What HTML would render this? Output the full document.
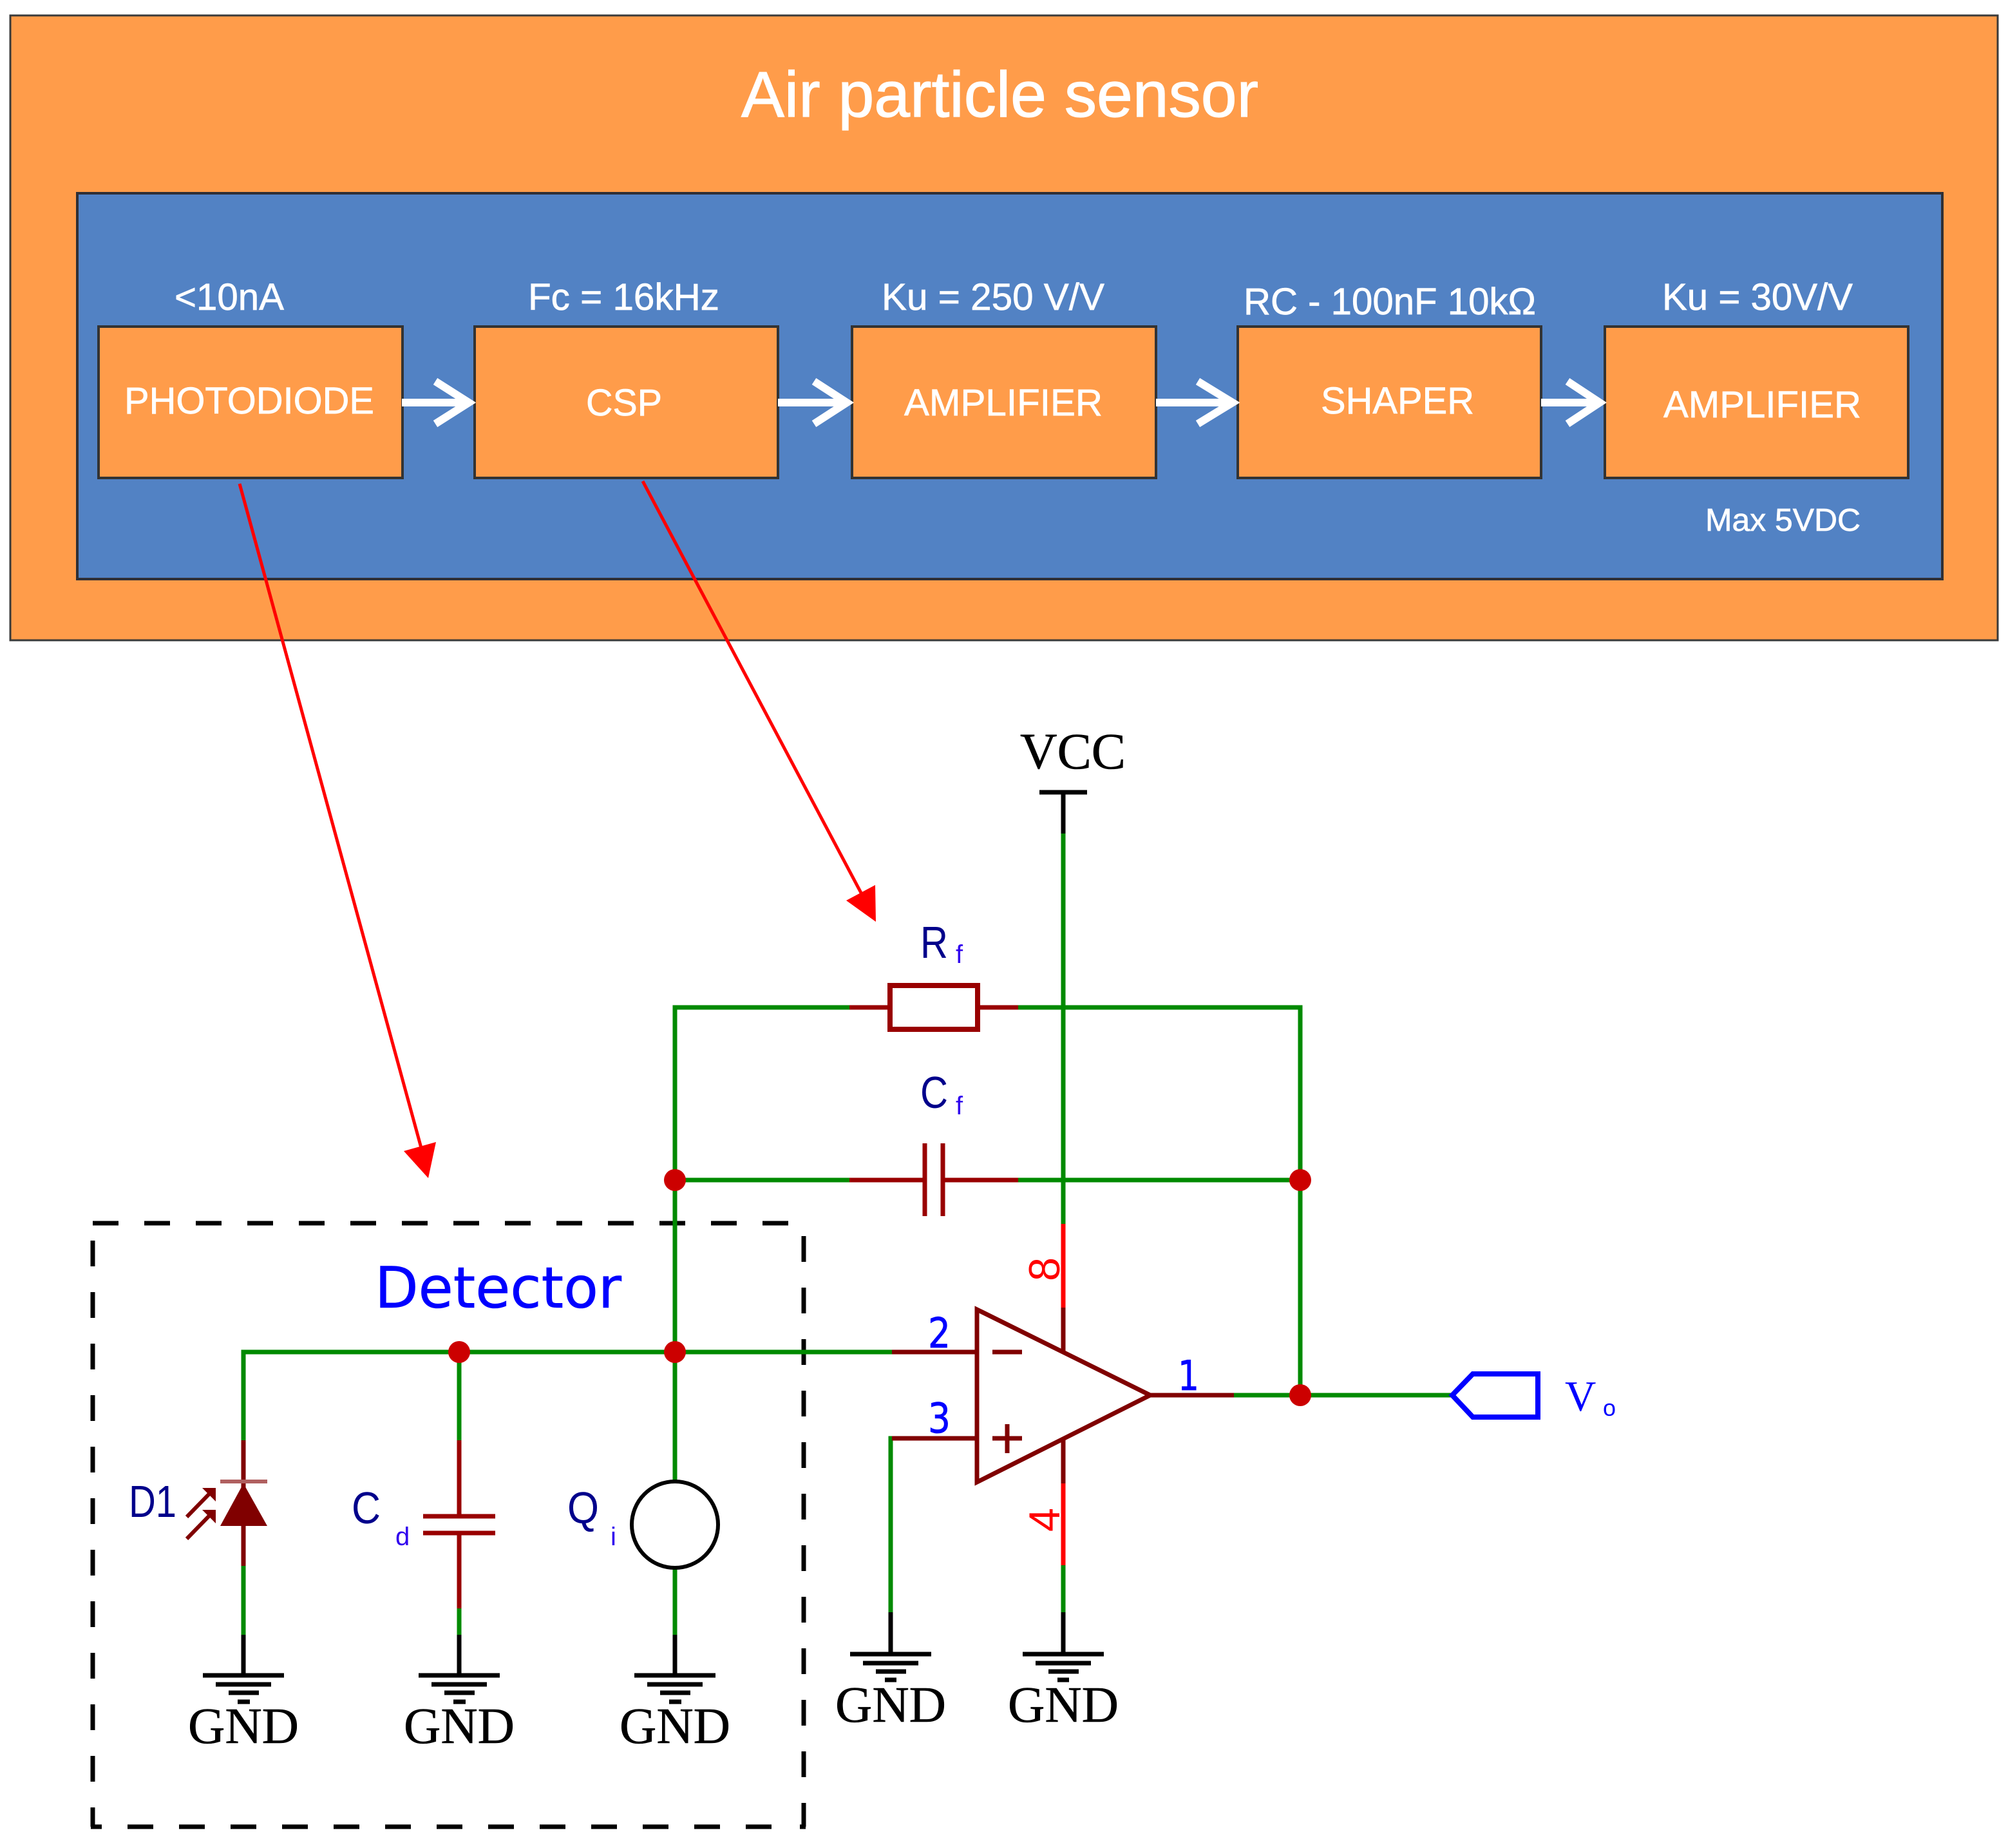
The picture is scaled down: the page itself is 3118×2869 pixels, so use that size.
<!DOCTYPE html>
<html><head><meta charset="utf-8"><style>
html,body{margin:0;padding:0;background:#fff}
svg{display:block}
.w{font-family:"Liberation Sans",sans-serif;fill:#fff;stroke:#fff;stroke-width:.7px;font-size:58px}
.s{font-family:"Liberation Serif",serif;fill:#000;stroke:#000;stroke-width:.6px;font-size:79px}
.l{font-family:"Liberation Sans",sans-serif;fill:#00008b;font-size:70px}
.b{font-family:"DejaVu Sans",sans-serif;fill:#0000ff}
.sub{font-family:"Liberation Sans",sans-serif;fill:#3000ee;font-size:40px}
.r{font-family:"Liberation Sans",sans-serif;fill:#ff0000;font-size:68px}
</style></head><body>
<svg xmlns="http://www.w3.org/2000/svg" width="3118" height="2869" viewBox="0 0 3118 2869">
<rect width="3118" height="2869" fill="#fff"/>
<rect x="16" y="24" width="3086" height="970" fill="#ff9c4a" stroke="#3a3a3a" stroke-width="3"/>
<rect x="120" y="300" width="2896" height="599" fill="#5282c4" stroke="#2f2f35" stroke-width="4"/>
<text x="1151" y="181" font-family="Liberation Sans,sans-serif" font-size="100" fill="#fff" stroke="#fff" stroke-width="1.2" textLength="803" lengthAdjust="spacingAndGlyphs">Air particle sensor</text>
<g fill="#ff9c4a" stroke="#333" stroke-width="4">
<rect x="153" y="507" width="472" height="235"/>
<rect x="737" y="507" width="471" height="235"/>
<rect x="1323" y="507" width="472" height="235"/>
<rect x="1922" y="507" width="471" height="235"/>
<rect x="2492" y="507" width="471" height="235"/>
</g>
<text class="w" x="271" y="481" textLength="170" lengthAdjust="spacingAndGlyphs">&lt;10nA</text>
<text class="w" x="820" y="481" textLength="297" lengthAdjust="spacingAndGlyphs">Fc = 16kHz</text>
<text class="w" x="1369" y="481" textLength="346" lengthAdjust="spacingAndGlyphs">Ku = 250 V/V</text>
<text class="w" x="1931" y="488" textLength="454" lengthAdjust="spacingAndGlyphs">RC - 100nF 10kΩ</text>
<text class="w" x="2581" y="481" textLength="296" lengthAdjust="spacingAndGlyphs">Ku = 30V/V</text>
<text class="w" x="2648" y="824" style="font-size:49px" textLength="241" lengthAdjust="spacingAndGlyphs">Max 5VDC</text>
<text class="w" x="193" y="642" textLength="388" lengthAdjust="spacingAndGlyphs">PHOTODIODE</text>
<text class="w" x="910" y="645" textLength="118" lengthAdjust="spacingAndGlyphs">CSP</text>
<text class="w" x="1404" y="645" textLength="308" lengthAdjust="spacingAndGlyphs">AMPLIFIER</text>
<text class="w" x="2051" y="642" textLength="238" lengthAdjust="spacingAndGlyphs">SHAPER</text>
<text class="w" x="2583" y="648" textLength="307" lengthAdjust="spacingAndGlyphs">AMPLIFIER</text>
<g fill="none" stroke="#fff" stroke-width="12">
<path d="M624 625H728M676 592L728 625L676 658"/>
<path d="M1208 625H1315M1264 592L1315 625L1264 658"/>
<path d="M1795 625H1914M1860 592L1914 625L1860 658"/>
<path d="M2393 625H2484M2434 592L2484 625L2434 658"/>
</g>

<!-- black stubs -->
<g stroke="#000" stroke-width="7" fill="none">
<path d="M1614 1230H1688M1651 1230V1294"/>
<path d="M378 2538V2601M713 2538V2601M1048 2538V2601M1383 2503V2568M1651 2503V2568"/>
<path d="M315 2601H441M335 2615H421M355 2628H402M369 2642H388"/>
<path d="M650 2601H776M670 2615H756M690 2628H737M704 2642H723"/>
<path d="M985 2601H1111M1005 2615H1091M1025 2628H1072M1039 2642H1058"/>
<path d="M1320 2568H1446M1340 2582H1426M1360 2595H1407M1374 2608H1392"/>
<path d="M1588 2568H1714M1608 2582H1694M1628 2595H1675M1642 2608H1660"/>
</g>
<!-- dashed detector -->
<g stroke="#000" stroke-width="7" fill="none">
<path d="M144 1899H1228" stroke-dasharray="40 40"/>
<path d="M144 1926V2836" stroke-dasharray="40 40"/>
<path d="M1248 1919V2836" stroke-dasharray="40 40"/>
<path d="M198 2836H1202" stroke-dasharray="40 40"/>
<path d="M141 2836H158M1242 2836H1251"/>
</g>
<!-- green wires -->
<g stroke="#008a00" stroke-width="7" fill="none">
<path d="M1651 1294V1900"/>
<path d="M1319 1564H1048V2300M1581 1564H2019V2166"/>
<path d="M1048 1832H1319M1581 1832H2019"/>
<path d="M378 2236V2099H1385"/>
<path d="M713 2099V2236M378 2431V2538M713 2497V2538M1048 2434V2538"/>
<path d="M1385 2233H1383V2503"/>
<path d="M1651 2430V2503"/>
<path d="M1916 2166H2254"/>
</g>
<!-- dark red components -->
<g stroke="#990000" stroke-width="7" fill="none">
<path d="M1319 1564H1382M1518 1564H1581"/>
<rect x="1382" y="1530" width="136" height="68" fill="#fff" stroke-width="8"/>
<path d="M1319 1832H1436M1464 1832H1581"/>
<path d="M1436 1775V1888M1464 1775V1888"/>
<path d="M713 2236V2354M713 2380V2497M657 2354H769M657 2380H769" />
</g>
<g stroke="#800000" stroke-width="7" fill="none">
<path d="M378 2236V2431"/>
<path d="M1517 2033V2301L1786 2166Z" stroke-linejoin="miter" fill="#fff"/>
<path d="M1385 2099H1517M1385 2233H1517"/>
<path d="M1541 2099H1587M1541 2233H1587M1564 2211V2256"/>
<path d="M1651 2030V2098M1651 2235V2303"/>
<path d="M1782 2166H1916"/>
<path d="M290 2355L330 2314M290 2389L330 2348" stroke-width="6"/>
</g>
<path d="M342 2300H415" stroke="#b06060" stroke-width="6"/>
<path d="M378 2303L415 2369H342Z" fill="#800000"/>
<path d="M314 2310H335V2331ZM314 2344H335V2365Z" fill="#800000"/>
<!-- bright red pins -->
<path d="M1651 1900V2030M1651 2303V2430" stroke="#ff0000" stroke-width="7"/>
<!-- current source -->
<circle cx="1048" cy="2367" r="67" fill="#fff" stroke="#000" stroke-width="6"/>
<!-- junctions -->
<g fill="#cc0000">
<circle cx="713" cy="2099" r="17"/><circle cx="1048" cy="2099" r="17"/>
<circle cx="1048" cy="1832" r="17"/><circle cx="2019" cy="1832" r="17"/>
<circle cx="2019" cy="2166" r="17"/>
</g>
<!-- output connector -->
<path d="M2255 2166L2287 2133H2388V2200H2287Z" fill="none" stroke="#0000ff" stroke-width="8"/>
<!-- red arrows -->
<g stroke="#ff0000" stroke-width="5" fill="none">
<path d="M372 751L654 1782"/>
<path d="M998 747L1338 1388"/>
</g>
<path d="M665 1829L627 1787L677 1773Z" fill="#ff0000"/>
<path d="M1360 1431L1314 1398L1359 1374Z" fill="#ff0000"/>
<!-- text schematic -->
<text class="s" x="1584" y="1193" textLength="164" lengthAdjust="spacingAndGlyphs">VCC</text>
<text class="s" x="292" y="2706" textLength="172" lengthAdjust="spacingAndGlyphs">GND</text>
<text class="s" x="627" y="2706" textLength="172" lengthAdjust="spacingAndGlyphs">GND</text>
<text class="s" x="962" y="2706" textLength="172" lengthAdjust="spacingAndGlyphs">GND</text>
<text class="s" x="1297" y="2673" textLength="172" lengthAdjust="spacingAndGlyphs">GND</text>
<text class="s" x="1565" y="2673" textLength="172" lengthAdjust="spacingAndGlyphs">GND</text>
<text class="b" x="582" y="2030" font-size="88" stroke="#0000ff" stroke-width=".6" textLength="383" lengthAdjust="spacingAndGlyphs">Detector</text>
<text class="l" x="1429" y="1487" textLength="43" lengthAdjust="spacingAndGlyphs">R</text>
<text class="sub" x="1484" y="1495">f</text>
<text class="l" x="1429" y="1720" textLength="43" lengthAdjust="spacingAndGlyphs">C</text>
<text class="sub" x="1484" y="1730">f</text>
<text class="l" x="200" y="2355" textLength="74" lengthAdjust="spacingAndGlyphs">D1</text>
<text class="l" x="546" y="2365" textLength="45" lengthAdjust="spacingAndGlyphs">C</text>
<text class="sub" x="614" y="2399">d</text>
<text class="l" x="881" y="2365" textLength="49" lengthAdjust="spacingAndGlyphs">Q</text>
<text class="sub" x="948" y="2399">i</text>
<text class="b" x="1441" y="2092" font-size="64" stroke="#0000ff" stroke-width=".8" textLength="35" lengthAdjust="spacingAndGlyphs">2</text>
<text class="b" x="1441" y="2224" font-size="64" stroke="#0000ff" stroke-width=".8" textLength="35" lengthAdjust="spacingAndGlyphs">3</text>
<text class="b" x="1829" y="2158" font-size="64" stroke="#0000ff" stroke-width=".8" textLength="33" lengthAdjust="spacingAndGlyphs">1</text>
<text class="r" transform="translate(1645 1989) rotate(-90)" textLength="37" lengthAdjust="spacingAndGlyphs">8</text>
<text class="r" transform="translate(1645 2378) rotate(-90)" textLength="37" lengthAdjust="spacingAndGlyphs">4</text>
<text x="2430" y="2190" font-family="Liberation Serif,serif" font-size="67" fill="#0000ff">V</text>
<text x="2489" y="2198" font-family="Liberation Sans,sans-serif" font-size="36" fill="#0000ff">o</text>
</svg>
</body></html>
